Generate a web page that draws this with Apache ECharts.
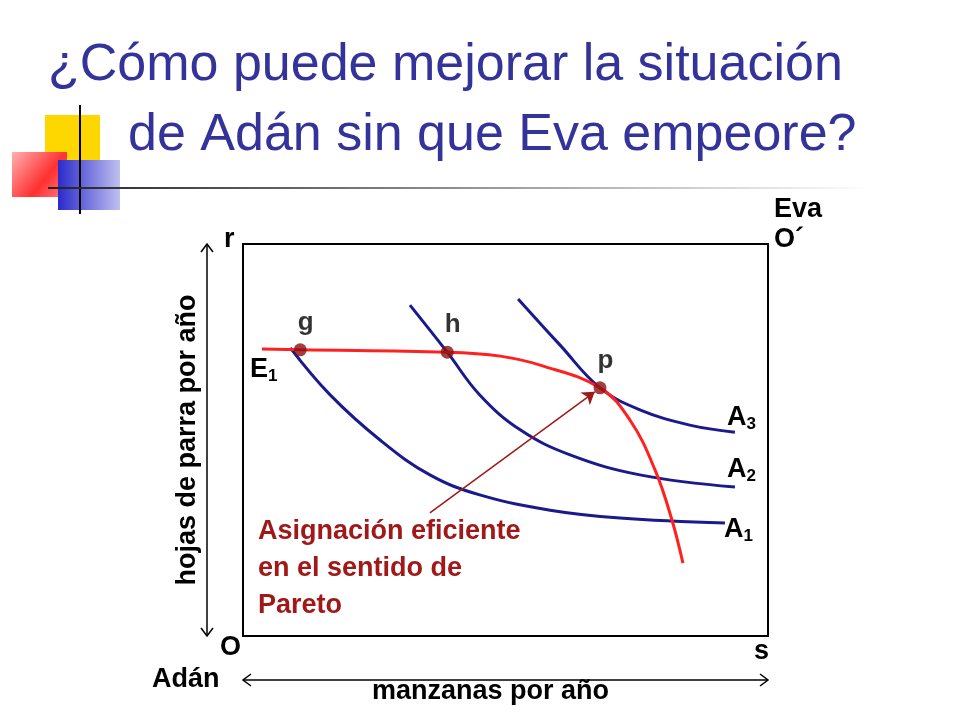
<!DOCTYPE html><html><head><meta charset="utf-8"><script src="https://cdn.jsdelivr.net/npm/echarts@6/dist/echarts.min.js"></script></head><body style="margin:0"><div id="c" style="width:960px;height:720px"></div><script>
const E1=[[3.6,73.2],[10.9,73.0],[38.9,72.4],[49,71.4],[56.6,69.1],[68,63.3],[73.7,55.1],[78.5,42.3],[81.7,29.6],[83.8,18.6]];
const A1=[[9,73.5],[16.6,61.5],[26.1,50],[35.6,41.1],[45.1,36],[58.5,32.1],[71.8,30.1],[91.8,28.8]];
const A2=[[31.8,84.4],[38.9,72.4],[45.1,61.5],[52.8,52.6],[62.3,46.2],[75.6,41.1],[93.7,38]];
const A3=[[52.4,86],[60.4,74.2],[68,63.3],[75.6,57.7],[85.1,53.8],[93.7,52]];
const points=[['g',10.9,73],['h',38.9,72.4],['p',68,63.3]];
const arrowFrom=[35.6,31.4], arrowTo=[67,62.3];
const ch=echarts.init(document.getElementById('c'));
const blue='#1a1a8c', red='#ff2020', dred='#a01818', F='Liberation Sans, Arial';
function curve(d,c){return {type:'line',data:d,smooth:0.4,symbol:'none',lineStyle:{color:c,width:3},z:2};}
const lbl=(t,x,y,c,extra)=>Object.assign({type:'text',left:x,top:y,style:{text:t,fill:c,font:'bold 27px '+F}},extra||{});
const sub=(m,s,x,y,c)=>({type:'text',left:x,top:y,style:{text:'{a|'+m+'}{b|'+s+'}',rich:{a:{fontSize:27,fontWeight:'bold',color:c||blue,fontFamily:F},b:{fontSize:17,fontWeight:'bold',color:c||blue,fontFamily:F,padding:[14,0,0,0]}}}});
ch.setOption({animation:false,
grid:{left:243,top:244,width:525,height:392,show:true,borderColor:'#000',borderWidth:2},
xAxis:{type:'value',min:0,max:100,show:false},yAxis:{type:'value',min:0,max:100,show:false},
series:[curve(A1,blue),curve(A2,blue),curve(A3,blue),curve(E1,red),
{type:'scatter',data:points.map(p=>[p[1],p[2],p[0]]),symbolSize:13,itemStyle:{color:'#8b1010'},z:5,
 label:{show:true,position:[4,-34],formatter:p=>p.data[2],color:'#000',fontSize:26,fontWeight:'bold',fontFamily:F}},
{type:'lines',coordinateSystem:'cartesian2d',data:[{coords:[arrowFrom,arrowTo]}],lineStyle:{color:dred,width:1.5,opacity:1},symbol:['none','arrow'],symbolSize:12,z:4}],
graphic:[
{type:'rect',shape:{x:45,y:115,width:55,height:50},style:{fill:'#ffd700'}},
{type:'rect',shape:{x:12,y:152,width:55,height:45},style:{fill:new echarts.graphic.LinearGradient(0,0,1,1,[{offset:0,color:'#ffb0b0'},{offset:0.6,color:'#ff3030'},{offset:1,color:'#ff8080'}])}},
{type:'rect',shape:{x:58,y:160,width:62,height:50},style:{fill:new echarts.graphic.LinearGradient(0,0,1,0,[{offset:0,color:'#2a2acc'},{offset:1,color:'#c0c0f0'}])}},
{type:'line',shape:{x1:80,y1:105,x2:80,y2:214},style:{stroke:'#000',lineWidth:2}},
{type:'line',shape:{x1:48,y1:188,x2:870,y2:188},style:{stroke:new echarts.graphic.LinearGradient(0,0,1,0,[{offset:0,color:'#222'},{offset:1,color:'#fff'}]),lineWidth:2}},
{type:'text',left:48,top:40,style:{text:'¿Cómo puede mejorar la situación',fill:'#333399',font:'52px Liberation Sans'}},
{type:'text',left:128,top:110,style:{text:'de Adán sin que Eva empeore?',fill:'#333399',font:'52px Liberation Sans'}},
lbl('r',224,226,'#000'),lbl('O',220,634,'#000'),lbl('s',754,638,'#000'),lbl('Eva',774,196,'#000'),lbl('O´',774,226,'#000'),
lbl('Adán',152,666,'#000'),lbl('manzanas por año',372,678,'#000'),
{type:'text',x:188,y:440,rotation:Math.PI/2,style:{text:'hojas de parra por año',fill:'#000',font:'bold 27px '+F,align:'center',verticalAlign:'middle'}},
{type:'line',shape:{x1:207,y1:244,x2:207,y2:636},style:{stroke:'#000',lineWidth:1.5}},
{type:'polyline',shape:{points:[[201,252],[207,244],[213,252]]},style:{stroke:'#000',fill:null,lineWidth:1.5}},
{type:'polyline',shape:{points:[[201,628],[207,636],[213,628]]},style:{stroke:'#000',fill:null,lineWidth:1.5}},
{type:'line',shape:{x1:243,y1:680,x2:768,y2:680},style:{stroke:'#000',lineWidth:1.5}},
{type:'polyline',shape:{points:[[251,674],[243,680],[251,686]]},style:{stroke:'#000',fill:null,lineWidth:1.5}},
{type:'polyline',shape:{points:[[760,674],[768,680],[760,686]]},style:{stroke:'#000',fill:null,lineWidth:1.5}},
sub('E','1',250,356,red),
sub('A','3',727,404),sub('A','2',727,456),sub('A','1',724,516),
lbl('Asignación eficiente',258,518,dred),lbl('en el sentido de',258,555,dred),lbl('Pareto',258,592,dred)
]});
</script></body></html>
